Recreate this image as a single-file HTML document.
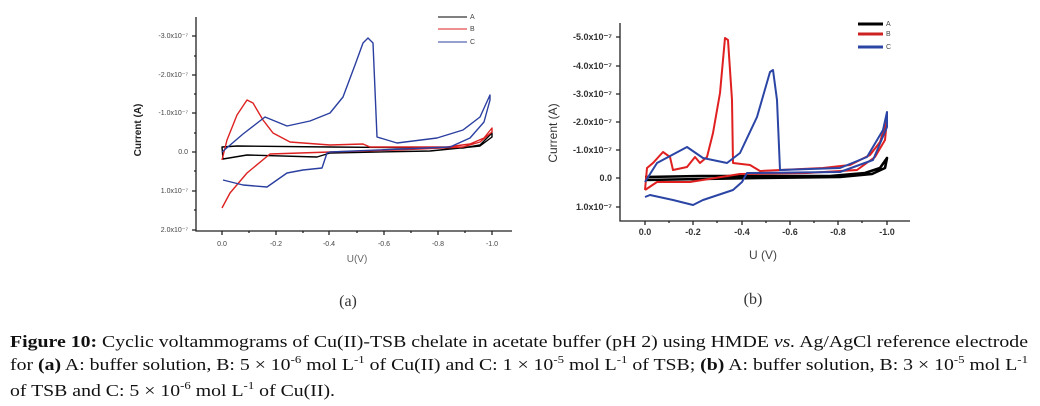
<!DOCTYPE html>
<html><head><meta charset="utf-8"><style>
html,body{margin:0;padding:0;background:#fff;}
svg{display:block;}
text{font-family:"Liberation Sans",sans-serif;}
.cap{font-family:"Liberation Serif",serif;font-size:17px;fill:#111;}
.t{font-size:7px;fill:#444;}
.tb{font-size:9px;fill:#333;font-weight:bold;}
</style></head><body>
<svg width="1040" height="406" viewBox="0 0 1040 406" xmlns="http://www.w3.org/2000/svg">
<rect width="1040" height="406" fill="#fff"/>
<g stroke="#222" stroke-width="1.3" fill="none">
<path d="M196,17 V231 H512"/>
<path d="M196,36h-4M196,75h-4M196,113h-4M196,152h-4M196,191h-4M196,230h-4"/>
<path d="M196,56h-2M196,94h-2M196,133h-2M196,171h-2M196,210h-2"/>
<path d="M222,231v4M276,231v4M329,231v4M384,231v4M438,231v4M492,231v4"/>
<path d="M249,231v2M303,231v2M357,231v2M411,231v2M465,231v2"/>
</g>
<g class="t" text-anchor="end">
<text x="188" y="38">-3.0x10⁻⁷</text><text x="188" y="77">-2.0x10⁻⁷</text><text x="188" y="115">-1.0x10⁻⁷</text>
<text x="188" y="154">0.0</text><text x="188" y="193">1.0x10⁻⁷</text><text x="188" y="232">2.0x10⁻⁷</text>
</g>
<g class="t" text-anchor="middle">
<text x="222" y="246">0.0</text><text x="276" y="246">-0.2</text><text x="329" y="246">-0.4</text><text x="384" y="246">-0.6</text><text x="438" y="246">-0.8</text><text x="492" y="246">-1.0</text>
</g>
<text x="357" y="262" text-anchor="middle" font-size="10" fill="#666">U(V)</text>
<text transform="translate(141,130) rotate(-90)" text-anchor="middle" font-size="10" font-weight="bold" fill="#222">Current (A)</text>
<g stroke-width="1" fill="none">
<path d="M438,17h29" stroke="#000"/><path d="M438,29h29" stroke="#d22"/><path d="M438,42h29" stroke="#2b3fa0"/>
</g>
<g class="t"><text x="470" y="19">A</text><text x="470" y="31">B</text><text x="470" y="44">C</text></g>
<g fill="none" stroke-width="1.4" stroke-linejoin="round">
<path stroke="#000" d="M222,147 L237,146 L330,147 L463,148 L480,145 L492,133 L492,137 L480,146 L430,151 L330,153 L317,157 L247,155 L223,159 Z"/>
<path stroke="#d22" d="M222,160 L227,140 L237,115 L247,100 L253,103 L263,120 L273,133 L290,142 L330,145 L363,144 L370,147 L447,147 L470,144 L484,138 L492,128 L492,132 L480,142 L463,147 L397,150 L330,152 L270,154 L247,173 L230,193 L222,208"/>
<path stroke="#2b3fa0" d="M222,152 L243,134 L265,117 L287,126 L310,121 L330,113 L343,97 L355,65 L363,43 L368,38 L373,43 L377,137 L397,143 L437,138 L463,130 L480,117 L490,95 L490,100 L484,122 L470,138 L450,147 L330,152 L327,153 L322,168 L303,170 L287,173 L267,187 L243,185 L223,180"/>
</g>
<text x="348" y="306" text-anchor="middle" font-size="16" fill="#333" style="font-family:'Liberation Serif',serif">(a)</text>

<g stroke="#222" stroke-width="1.3" fill="none">
<path d="M620,23 V221 H910"/>
<path d="M620,37h-4M620,66h-4M620,94h-4M620,122h-4M620,150h-4M620,178h-4M620,207h-4"/>
<path d="M645,221v4M693,221v4M742,221v4M790,221v4M838,221v4M887,221v4"/>
<path d="M669,221v2M717,221v2M766,221v2M814,221v2M862,221v2"/>
</g>
<g class="tb" text-anchor="end">
<text x="612" y="40">-5.0x10⁻⁷</text><text x="612" y="69">-4.0x10⁻⁷</text><text x="612" y="97">-3.0x10⁻⁷</text>
<text x="612" y="125">-2.0x10⁻⁷</text><text x="612" y="153">-1.0x10⁻⁷</text><text x="612" y="181">0.0</text><text x="612" y="210">1.0x10⁻⁷</text>
</g>
<g class="tb" text-anchor="middle">
<text x="645" y="235">0.0</text><text x="693" y="235">-0.2</text><text x="742" y="235">-0.4</text><text x="790" y="235">-0.6</text><text x="838" y="235">-0.8</text><text x="887" y="235">-1.0</text>
</g>
<text x="763" y="259" text-anchor="middle" font-size="12" fill="#444">U (V)</text>
<text transform="translate(557,133) rotate(-90)" text-anchor="middle" font-size="12" fill="#333">Current (A)</text>
<g stroke-width="3" fill="none">
<path d="M858,24h25" stroke="#000"/><path d="M858,34h25" stroke="#c22"/><path d="M858,47h25" stroke="#2b45a5"/>
</g>
<g class="t"><text x="886" y="26">A</text><text x="886" y="36">B</text><text x="886" y="49">C</text></g>
<g fill="none" stroke-width="2" stroke-linejoin="round">
<path stroke="#000" stroke-width="2.6" d="M645,177 L700,176 L830,176 L865,173 L880,168 L887,158 L885,168 L872,174 L840,177 L760,178 L645,180"/>
<path stroke="#e02020" d="M645,190 L647,168 L653,163 L663,152 L670,157 L673,170 L687,167 L695,157 L700,163 L707,157 L713,133 L720,93 L725,38 L728,40 L732,100 L733,163 L750,165 L760,171 L823,168 L850,165 L870,155 L880,142 L887,120 L885,140 L875,157 L857,170 L807,173 L740,174 L690,182 L657,182 L645,190"/>
<path stroke="#2b45a5" d="M645,182 L657,163 L687,147 L703,158 L727,163 L740,153 L757,117 L770,72 L773,70 L777,100 L780,170 L840,168 L867,157 L883,130 L887,112 L887,127 L873,160 L840,172 L747,173 L742,182 L733,190 L703,200 L693,205 L673,200 L650,195 L645,197"/>
</g>
<text x="753" y="304" text-anchor="middle" font-size="16" fill="#333" style="font-family:'Liberation Serif',serif">(b)</text>

<text class="cap" x="10" y="347" textLength="1018" lengthAdjust="spacingAndGlyphs"><tspan font-weight="bold">Figure 10:</tspan> Cyclic voltammograms of Cu(II)-TSB chelate in acetate buffer (pH 2) using HMDE <tspan font-style="italic">vs.</tspan> Ag/AgCl reference electrode</text>
<text class="cap" x="10" y="370" textLength="1018" lengthAdjust="spacingAndGlyphs">for <tspan font-weight="bold">(a)</tspan> A: buffer solution, B: 5 × 10<tspan font-size="11" dy="-7">-6</tspan><tspan dy="7"> mol L</tspan><tspan font-size="11" dy="-7">-1</tspan><tspan dy="7"> of  Cu(II) and C: 1 × 10</tspan><tspan font-size="11" dy="-7">-5</tspan><tspan dy="7"> mol L</tspan><tspan font-size="11" dy="-7">-1</tspan><tspan dy="7"> of TSB; </tspan><tspan font-weight="bold">(b)</tspan> A: buffer solution, B: 3 × 10<tspan font-size="11" dy="-7">-5</tspan><tspan dy="7"> mol L</tspan><tspan font-size="11" dy="-7">-1</tspan></text>
<text class="cap" x="10" y="396" textLength="325" lengthAdjust="spacingAndGlyphs">of  TSB and C: 5 × 10<tspan font-size="11" dy="-7">-6</tspan><tspan dy="7"> mol L</tspan><tspan font-size="11" dy="-7">-1</tspan><tspan dy="7"> of Cu(II).</tspan></text>
</svg>
</body></html>
